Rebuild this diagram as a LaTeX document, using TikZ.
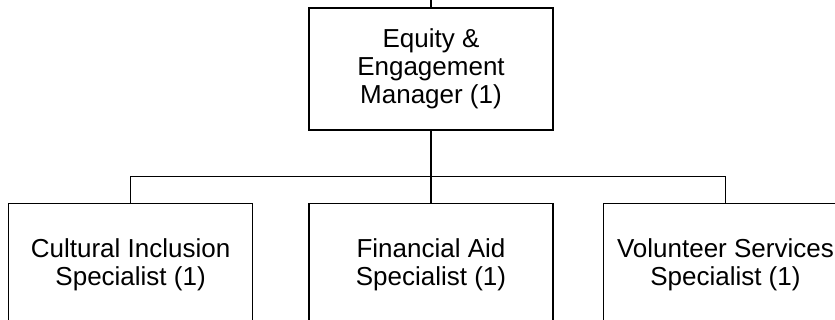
\documentclass[tikz,border=0pt]{standalone}
\usepackage{fontspec}
\setmainfont{Liberation Sans}
\usetikzlibrary{positioning}

\begin{document}
\begin{tikzpicture}[x=1pt,y=-1pt,line width=1.4pt,node distance=72pt,
                    role/.style={rectangle,draw,minimum width=244pt,minimum height=122pt,
                                 inner sep=0pt,align=center,
                                 font=\fontsize{26}{28}\selectfont}]

  \useasboundingbox (0,0) rectangle (835,320);

  \node[role]   (M) at (431,69)        {Equity \&\\Engagement\\Manager (1)};
  \node[role]   (F) [below=of M]       {Financial Aid\\Specialist (1)};
  \node[role]   (C) [left=55pt of F]   {Cultural Inclusion\\Specialist (1)};
  \node[role]   (V) [right=49pt of F]  {Volunteer Services\\Specialist (1)};

  \coordinate (up) at (431,0);

  \draw (M) -- (up);
  \draw (M) -- (F);
  \draw (M.south) -- +(0,46) -| (C.north);
  \draw (M.south) -- +(0,46) -| (V.north);
\end{tikzpicture}
\end{document}
